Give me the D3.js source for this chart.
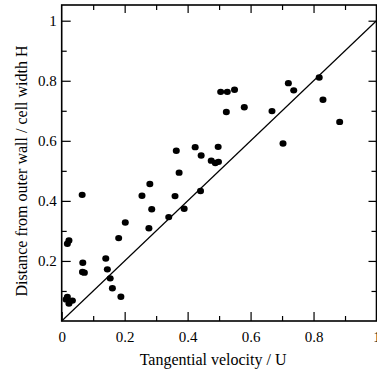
<!DOCTYPE html>
<html><head><meta charset="utf-8">
<script src="https://cdn.jsdelivr.net/npm/d3@7"></script>
<style>body{margin:0;background:#fff}svg{display:block}</style>
</head><body><svg id="c" width="377" height="369"></svg>
<script>
const xVals=[0.065,0.018,0.023,0.067,0.066,0.072,0.14,0.145,0.154,0.161,0.188,0.181,0.202,0.255,0.28,0.286,0.277,0.014,0.023,0.034,0.018,0.505,0.526,0.549,0.523,0.58,0.668,0.72,0.737,0.703,0.364,0.424,0.443,0.497,0.475,0.488,0.498,0.373,0.36,0.441,0.389,0.34,0.818,0.83,0.883];
const yVals=[0.42,0.257,0.268,0.194,0.163,0.161,0.208,0.172,0.142,0.109,0.081,0.276,0.328,0.417,0.456,0.372,0.309,0.072,0.058,0.068,0.08,0.763,0.763,0.77,0.696,0.712,0.699,0.792,0.768,0.591,0.567,0.579,0.551,0.58,0.534,0.526,0.53,0.494,0.416,0.433,0.374,0.346,0.811,0.737,0.663];
const xTicks=[0,0.2,0.4,0.6,0.8,1];
const xTickLabels=["0","0.2","0.4","0.6","0.8","1"];
const yTicks=[0.2,0.4,0.6,0.8,1];
const yTickLabels=["0.2","0.4","0.6","0.8","1"];
const minorTicks=[0.1,0.3,0.5,0.7,0.9];
const refLine=[[0,0],[1,1]];
const xTitle="Tangential velocity / U";
const yTitle="Distance from outer wall / cell width H";

const FONT='"Liberation Serif","Times New Roman",Times,serif';
const svg=d3.select("#c");
const L=61.7,R=376.5,T=5,B=321;
const x=d3.scaleLinear().domain([0,1]).range([L,R]);
const y=d3.scaleLinear().domain([0,(B-T)/300.3]).range([B,T]);
const allX=xTicks.concat(minorTicks), allY=yTicks.concat(minorTicks);
function fmtX(d){const i=xTicks.indexOf(d);return i>=0?xTickLabels[i]:"";}
function fmtY(d){const i=yTicks.indexOf(d);return i>=0?yTickLabels[i]:"";}
const ax=g=>{g.attr("font-family",null).attr("font-size",null);g.selectAll("path.domain").remove();g.selectAll("line").attr("stroke","#000").attr("stroke-width",1.2);
  g.selectAll("text").style("font-family",FONT).style("font-size","15px").attr("fill","#000");};
svg.append("g").attr("transform",`translate(0,${B})`).call(d3.axisBottom(x).tickValues(allX).tickFormat(fmtX).tickSizeInner(0).tickPadding(10)).call(ax)
 .call(g=>g.selectAll(".tick line").attr("y2",d=>-(xTicks.includes(d)?9:5)));
svg.append("g").attr("transform",`translate(0,${T})`).call(d3.axisTop(x).tickValues(allX.filter(d=>d>0&&d<1)).tickFormat("").tickSizeInner(0)).call(ax)
 .call(g=>g.selectAll(".tick line").attr("y2",d=>(xTicks.includes(d)?8:5)));
svg.append("g").attr("transform",`translate(${L},0)`).call(d3.axisLeft(y).tickValues(allY).tickFormat(fmtY).tickSizeInner(0).tickPadding(5)).call(ax)
 .call(g=>g.selectAll(".tick line").attr("x2",d=>(yTicks.includes(d)?9:5)));
svg.append("g").attr("transform",`translate(${R},0)`).call(d3.axisRight(y).tickValues(allY).tickFormat("").tickSizeInner(0)).call(ax)
 .call(g=>g.selectAll(".tick line").attr("x2",d=>-(yTicks.includes(d)?8:5)));
svg.append("rect").attr("x",L).attr("y",T).attr("width",R-L).attr("height",B-T).attr("fill","none").attr("stroke","#000").attr("stroke-width",1.6);
svg.append("path").datum(refLine).attr("d",d3.line().x(d=>x(d[0])).y(d=>y(d[1]))).attr("stroke","#000").attr("stroke-width",1.2).attr("fill","none");
svg.append("g").selectAll("ellipse").data(xVals.map((v,i)=>[v,yVals[i]])).join("ellipse")
 .attr("cx",d=>x(d[0])).attr("cy",d=>y(d[1])).attr("rx",3.5).attr("ry",3.2).attr("fill","#000");
svg.append("text").attr("x",(L+R)/2-6).attr("y",365).attr("text-anchor","middle").style("font-family",FONT).style("font-size","16px").text(xTitle);
svg.append("text").attr("transform","translate(27,171) rotate(-90)").attr("text-anchor","middle").style("font-family",FONT).style("font-size","16px").text(yTitle);
</script></body></html>
